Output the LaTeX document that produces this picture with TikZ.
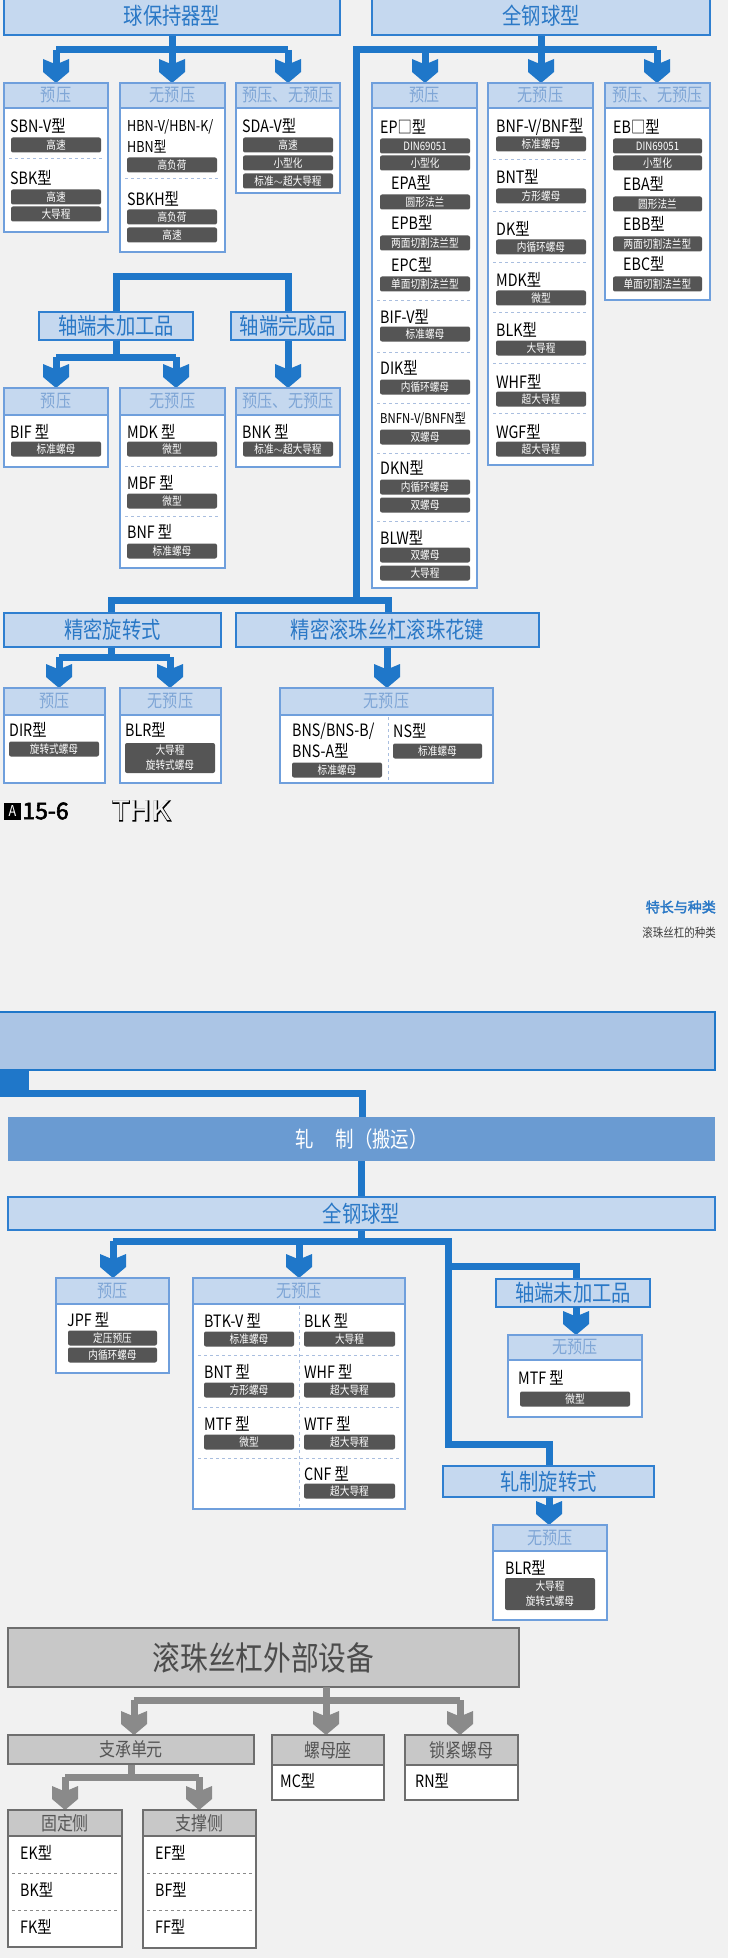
\documentclass[tikz,border=0pt]{standalone}
\usepackage{fontspec}
\setmainfont{Noto Sans CJK SC}[FakeStretch=0.84]
\newfontfamily\heavy{Noto Sans CJK SC}[FakeBold=2.5]
\newfontfamily\thkouter{Noto Sans CJK SC}[FakeStretch=1.1,FakeBold=5]
\newfontfamily\thkinner{Noto Sans CJK SC}[FakeStretch=1.1]
\usetikzlibrary{positioning}

\definecolor{bgc}{HTML}{F1F1F1}
\definecolor{lineblue}{HTML}{1F77C9}
\definecolor{catfill}{HTML}{C5D8EF}
\definecolor{catdraw}{HTML}{2F7FD0}
\definecolor{cattext}{HTML}{2A78C6}
\definecolor{grpdraw}{HTML}{6F9FDC}
\definecolor{grphead}{HTML}{C5D8EF}
\definecolor{grptext}{HTML}{7FA6D6}
\definecolor{tagfill}{HTML}{555555}
\definecolor{dashc}{HTML}{A9BEDF}
\definecolor{banner}{HTML}{ABC5E5}
\definecolor{rollfill}{HTML}{6A9BD2}
\definecolor{gline}{HTML}{8A8A8A}
\definecolor{gfill}{HTML}{C8C8C8}
\definecolor{gdraw}{HTML}{6E6E6E}
\definecolor{gtext}{HTML}{555555}

% group box with header
\newcommand\grp[7][grp]{%
  \draw[#1box] (#2,#3) rectangle (#4,#5);
  \draw[#1head] (#2,#3) rectangle (#4,#6);
  \node[#1title] at ({(#2+#4)/2},{(#3+#6)/2}) {#7};}
% model label
\newcommand\itm[3]{\node[itm] at (#1,#2) {#3};}
% dark tag
\newcommand\tg[4]{\node[tagbox, minimum width={#2-#1}] at ({(#1+#2)/2},#3) {#4};}
% separator
\newcommand\sep[4][dashc]{\draw[#1, dashed, line width=1pt] (#2,#4) -- (#3,#4);}
% down arrow: colour, x, start y, tip y
\newcommand\darr[4]{%
  \draw[line width=7pt, #1] (#2,#3) -- (#2,#4-18);
  \fill[#1] (#2-3.5,#4-20) -- (#2-13,#4-24) -- (#2-13,#4-11) -- (#2,#4)
    -- (#2+13,#4-11) -- (#2+13,#4-24) -- (#2+3.5,#4-20) -- cycle;}

\begin{document}
\begin{tikzpicture}[x=1pt,y=-1pt,
  bl/.style={line width=7pt, lineblue},
  gl/.style={line width=7pt, gline},
  cat/.style={draw=catdraw, fill=catfill, line width=1.6pt},
  cattxt/.style={text=cattext, font=\fontsize{23}{23}\selectfont},
  grpbox/.style={draw=grpdraw, fill=white, line width=1.6pt},
  grphead/.style={draw=grpdraw, fill=grphead, line width=1.6pt},
  grptitle/.style={text=grptext, font=\fontsize{18}{18}\selectfont},
  gbox/.style={draw=gdraw, fill=white, line width=1.6pt},
  ghead/.style={draw=gdraw, fill=gfill, line width=1.6pt},
  gtitle/.style={text=gtext, font=\fontsize{19}{19}\selectfont},
  itm/.style={anchor=west, inner sep=0pt, font=\fontsize{17}{17}\selectfont},
  tagbox/.style={fill=tagfill, text=white, rounded corners=2pt, inner sep=0pt,
    minimum height=15pt, font=\fontsize{11.5}{12}\selectfont}]

\fill[bgc] (0,0) rectangle (728,1958);
\useasboundingbox (0,0) rectangle (728,1958);

% ---------- upper connectors
\draw[bl] (172,30) -- (172,50);
\draw[bl] (56,50) -- (288,50);
\darr{lineblue}{56}{50}{83}
\darr{lineblue}{172}{50}{83}
\darr{lineblue}{288}{50}{83}
\draw[bl] (541,30) -- (541,50);
\draw[bl] (356,600) -- (356,50) -- (657,50);
\darr{lineblue}{425}{50}{83}
\darr{lineblue}{541}{50}{83}
\darr{lineblue}{657}{50}{83}
\draw[bl] (288,315) -- (288,277) -- (116,277) -- (116,315);
\draw[bl] (116,340) -- (116,357);
\draw[bl] (56,357) -- (176,357);
\darr{lineblue}{56}{357}{388}
\darr{lineblue}{176}{357}{388}
\darr{lineblue}{288}{340}{388}
\draw[bl] (111,616) -- (111,600) -- (388,600) -- (388,616);
\draw[bl] (111,647) -- (111,657);
\draw[bl] (59,657) -- (170,657);
\darr{lineblue}{59}{657}{688}
\darr{lineblue}{170}{657}{688}
\darr{lineblue}{387}{647}{688}

% ---------- category boxes
\node[cat, minimum width=336pt, minimum height=38pt, cattxt] (qbc) at (172,16) {球保持器型};
\node[cat, minimum width=338pt, minimum height=38pt, cattxt] (qgq) at (541,16) {全钢球型};
\node[cat, minimum width=154pt, minimum height=28pt, cattxt] (zwj) at (116,326) {轴端未加工品};
\node[cat, minimum width=114pt, minimum height=28pt, cattxt] (zwc) at (288,326) {轴端完成品};
\node[cat, minimum width=217pt, minimum height=34pt, cattxt] (jmx) at (112.5,630) {精密旋转式};
\node[cat, minimum width=303pt, minimum height=34pt, cattxt] (jmh) at (387.5,630) {精密滚珠丝杠滚珠花键};

% ---------- upper groups
\grp{4}{83}{108}{232}{108}{预压}
\itm{10}{126}{SBN-V型} \tg{11}{101}{145}{高速}
\sep{9}{103}{159}
\itm{10}{178}{SBK型} \tg{11}{101}{197}{高速} \tg{11}{101}{214}{大导程}

\grp{120}{83}{225}{252}{108}{无预压}
\node[itm, font=\fontsize{15}{15}\selectfont] at (127,127) {HBN-V/HBN-K/};
\node[itm, font=\fontsize{15}{15}\selectfont] at (127,147) {HBN型};
\tg{127}{217}{165}{高负荷}
\sep{125}{220}{179}
\itm{127}{199}{SBKH型} \tg{127}{217}{217}{高负荷} \tg{127}{217}{235}{高速}

\grp{236}{83}{340}{193}{108}{预压、无预压}
\itm{242}{126}{SDA-V型} \tg{243}{333}{145}{高速} \tg{243}{333}{163}{小型化}
\tg{243}{333}{181}{标准$\sim$超大导程}

\grp{372}{83}{477}{588}{108}{预压}
\itm{380}{127}{EP□型} \tg{380}{470}{146}{DIN69051} \tg{380}{470}{163}{小型化}
\itm{391}{183}{EPA型} \tg{380}{470}{202}{圆形法兰}
\itm{391}{223}{EPB型} \tg{380}{470}{243}{两面切割法兰型}
\itm{391}{265}{EPC型} \tg{380}{470}{284}{单面切割法兰型}
\sep{377}{472}{301}
\itm{380}{317}{BIF-V型} \tg{380}{470}{334}{标准螺母}
\sep{377}{472}{352}
\itm{380}{368}{DIK型} \tg{380}{470}{387}{内循环螺母}
\sep{377}{472}{403}
\node[itm, font=\fontsize{13.5}{14}\selectfont] at (380,419) {BNFN-V/BNFN型};
\tg{380}{470}{437}{双螺母}
\sep{377}{472}{453}
\itm{380}{468}{DKN型} \tg{380}{470}{487}{内循环螺母} \tg{380}{470}{505}{双螺母}
\sep{377}{472}{521}
\itm{380}{538}{BLW型} \tg{380}{470}{555}{双螺母} \tg{380}{470}{573}{大导程}

\grp{488}{83}{593}{465}{108}{无预压}
\itm{496}{127}{BNF-V/BNF型} \tg{496}{586}{144}{标准螺母}
\sep{493}{588}{160}
\itm{496}{177}{BNT型} \tg{496}{586}{196}{方形螺母}
\sep{493}{588}{212}
\itm{496}{229}{DK型} \tg{496}{586}{247}{内循环螺母}
\sep{493}{588}{263}
\itm{496}{280}{MDK型} \tg{496}{586}{298}{微型}
\sep{493}{588}{313}
\itm{496}{330}{BLK型} \tg{496}{586}{348}{大导程}
\sep{493}{588}{363}
\itm{496}{382}{WHF型} \tg{496}{586}{399}{超大导程}
\sep{493}{588}{413}
\itm{496}{432}{WGF型} \tg{496}{586}{449}{超大导程}

\grp{605}{83}{710}{300}{108}{预压、无预压}
\itm{613}{127}{EB□型} \tg{613}{702}{146}{DIN69051} \tg{613}{702}{163}{小型化}
\itm{623}{184}{EBA型} \tg{613}{702}{204}{圆形法兰}
\itm{623}{224}{EBB型} \tg{613}{702}{244}{两面切割法兰型}
\itm{623}{264}{EBC型} \tg{613}{702}{284}{单面切割法兰型}

\grp{4}{388}{108}{467}{415}{预压}
\itm{10}{432}{BIF 型} \tg{11}{101}{449}{标准螺母}
\grp{120}{388}{225}{568}{415}{无预压}
\itm{127}{432}{MDK 型} \tg{127}{217}{449}{微型}
\sep{125}{220}{466}
\itm{127}{483}{MBF 型} \tg{127}{217}{501}{微型}
\sep{125}{220}{516}
\itm{127}{532}{BNF 型} \tg{127}{217}{551}{标准螺母}
\grp{236}{388}{340}{467}{415}{预压、无预压}
\itm{242}{432}{BNK 型} \tg{243}{333}{449}{标准$\sim$超大导程}

\grp{4}{688}{105}{783}{715}{预压}
\itm{9}{730}{DIR型} \tg{9}{99}{749}{旋转式螺母}
\grp{120}{688}{221}{783}{715}{无预压}
\itm{125}{730}{BLR型}
\node[tagbox, minimum width=90pt, minimum height=30pt, align=center,
  font=\fontsize{11.5}{15}\selectfont] at (170,758) {大导程\\旋转式螺母};
\grp{280}{688}{493}{783}{715}{无预压}
\draw[dashc, dashed, line width=1pt] (388,717) -- (388,781);
\itm{292}{731}{BNS/BNS-B/} \itm{292}{751}{BNS-A型} \tg{292}{382}{770}{标准螺母}
\itm{393}{731}{NS型} \tg{393}{482}{751}{标准螺母}

% ---------- footer of upper page
\node[fill=black, text=white, inner sep=0pt, minimum size=17pt,
  font=\fontsize{15}{15}\selectfont] (pga) at (12.5,811) {A};
\node[right=1pt of pga, inner sep=0pt, font=\heavy\fontsize{23}{23}\selectfont] (pgn) {15-6};
\node[anchor=west, inner sep=0pt, font=\thkouter\fontsize{27}{27}\selectfont] (thk) at (112,811) {THK};
\node[anchor=west, inner sep=0pt, text=bgc, font=\thkinner\fontsize{27}{27}\selectfont] (thki) at (112,811) {THK};
\node[anchor=east, inner sep=0pt, text=cattext, font=\heavy\fontsize{14}{14}\selectfont] (ttl) at (716,907) {特长与种类};
\node[anchor=east, inner sep=0pt, text=black!75, font=\fontsize{12.5}{13}\selectfont] (sub) at (716,933) {滚珠丝杠的种类};

% ---------- rolled section
\draw[draw=lineblue, fill=banner, line width=2pt] (-2,1012) rectangle (715,1070);
\fill[lineblue] (0,1070) rectangle (29,1097);
\draw[bl] (29,1093.5) -- (362,1093.5) -- (362,1117);
\node[fill=rollfill, minimum width=707pt, minimum height=44pt, text=white,
  font=\fontsize{22}{22}\selectfont] (rz) at (361.5,1139) {轧\quad 制（搬运）};
\node[cat, minimum width=707pt, minimum height=33pt, cattxt] (qgq2) at (361.5,1213.5) {全钢球型};
\draw[bl] (rz.south) -- (qgq2.north);
\draw[bl] (qgq2.south) -- ++(0,11.5);
\draw[bl] (113,1241.5) -- (448,1241.5) -- (448,1444) -- (549,1444) -- (549,1468);
\draw[bl] (448,1266) -- (576,1266) -- (576,1281);
\darr{lineblue}{113}{1241}{1278}
\darr{lineblue}{299}{1241}{1278}
\node[cat, minimum width=154pt, minimum height=28pt, cattxt] (zwj2) at (573,1293) {轴端未加工品};
\darr{lineblue}{576}{1307}{1335}
\node[cat, minimum width=211pt, minimum height=31pt, cattxt] (zxz) at (548.5,1481.5) {轧制旋转式};
\darr{lineblue}{549}{1497}{1525}

\grp{56}{1278}{169}{1373}{1304}{预压}
\itm{67}{1320}{JPF 型} \tg{68}{157}{1338}{定压预压} \tg{68}{157}{1355}{内循环螺母}

\grp{193}{1278}{405}{1509}{1304}{无预压}
\draw[dashc, dashed, line width=1pt] (299,1306) -- (299,1507);
\itm{204}{1321}{BTK-V 型} \tg{204}{294}{1339}{标准螺母}
\itm{304}{1321}{BLK 型} \tg{304}{395}{1339}{大导程}
\sep{198}{400}{1355}
\itm{204}{1372}{BNT 型} \tg{204}{294}{1390}{方形螺母}
\itm{304}{1372}{WHF 型} \tg{304}{395}{1390}{超大导程}
\sep{198}{400}{1407}
\itm{204}{1424}{MTF 型} \tg{204}{294}{1442}{微型}
\itm{304}{1424}{WTF 型} \tg{304}{395}{1442}{超大导程}
\sep{198}{400}{1458}
\itm{304}{1474}{CNF 型} \tg{304}{395}{1491}{超大导程}

\grp{508}{1335}{642}{1417}{1360}{无预压}
\itm{518}{1378}{MTF 型} \tg{520}{630}{1399}{微型}

\grp{493}{1525}{607}{1620}{1551}{无预压}
\itm{505}{1568}{BLR型}
\node[tagbox, minimum width=90pt, minimum height=32pt, align=center,
  font=\fontsize{11.5}{15}\selectfont] at (550,1594) {大导程\\旋转式螺母};

% ---------- peripheral equipment
\node[draw=gdraw, fill=gfill, line width=2pt, minimum width=511pt, minimum height=59pt,
  text=black!70, font=\fontsize{33}{33}\selectfont] (wbs) at (263.5,1657.5) {滚珠丝杠外部设备};
\draw[gl] (326,1687) -- (326,1700);
\draw[gl] (134,1700) -- (460,1700);
\darr{gline}{134}{1700}{1735}
\darr{gline}{326}{1700}{1735}
\darr{gline}{460}{1700}{1735}
\node[draw=gdraw, fill=gfill, line width=1.6pt, minimum width=246pt, minimum height=29pt,
  text=gtext, font=\fontsize{19}{19}\selectfont] (zcdy) at (131,1749.5) {支承单元};
\draw[gl] (zcdy.south) -- ++(0,13);
\draw[gl] (65,1777) -- (199,1777);
\darr{gline}{65}{1777}{1810}
\darr{gline}{199}{1777}{1810}

\grp[g]{272}{1735}{384}{1800}{1765}{螺母座}
\itm{280}{1781}{MC型}
\grp[g]{405}{1735}{518}{1800}{1765}{锁紧螺母}
\itm{415}{1781}{RN型}
\grp[g]{8}{1810}{122}{1947}{1836}{固定侧}
\itm{20}{1853}{EK型} \sep[gline]{12}{118}{1873}
\itm{20}{1890}{BK型} \sep[gline]{12}{118}{1910}
\itm{20}{1927}{FK型}
\grp[g]{143}{1810}{256}{1948}{1836}{支撑侧}
\itm{155}{1853}{EF型} \sep[gline]{147}{252}{1873}
\itm{155}{1890}{BF型} \sep[gline]{147}{252}{1910}
\itm{155}{1927}{FF型}
\end{tikzpicture}
\end{document}
